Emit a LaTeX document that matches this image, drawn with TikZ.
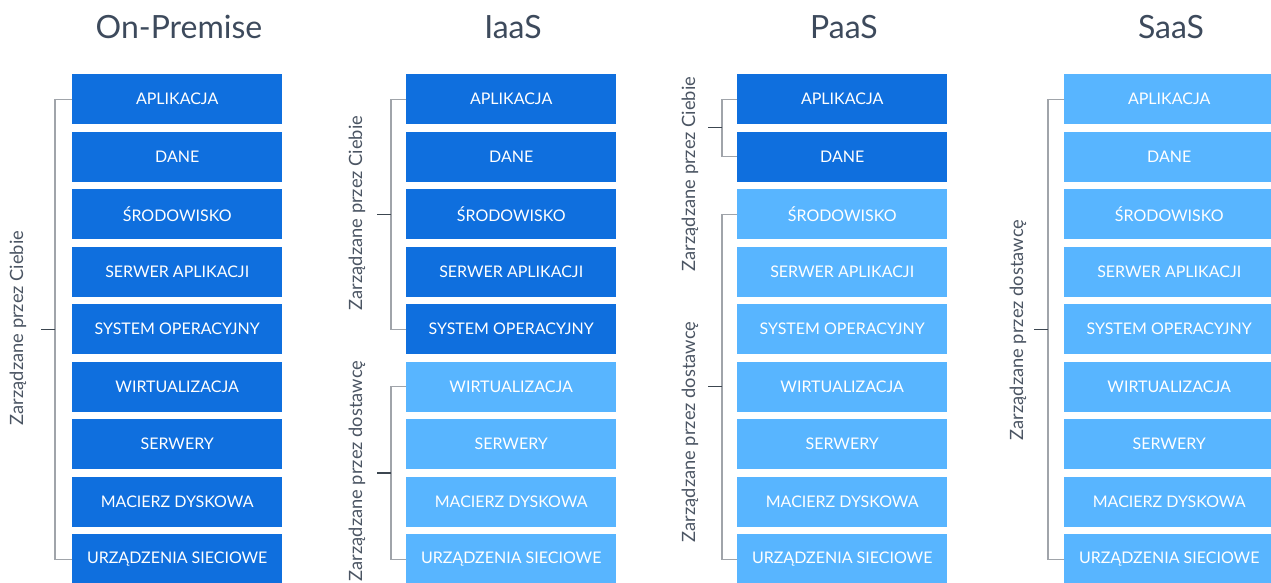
\documentclass[tikz,border=0pt]{standalone}
\usepackage{fontspec}
\setmainfont{Lato}
\usepackage{xcolor}
\usepackage{tikz}
\usetikzlibrary{positioning,calc}
\definecolor{cloud_dark}{RGB}{15, 111, 222}
\definecolor{cloud_light}{RGB}{88, 181, 255}
\definecolor{cloud_title}{RGB}{61, 74, 92}
\definecolor{cloud_side}{RGB}{75, 85, 99}
\definecolor{cloud_line}{RGB}{160, 164, 170}
\definecolor{cloud_tick}{RGB}{60, 70, 80}

\tikzset{
  layer/.style={anchor=north west, minimum width=210pt, minimum height=50pt,
                inner sep=0pt, text=white, font=\fontsize{16}{16}\selectfont},
  coltitle/.style={text=cloud_title, font=\fontsize{32}{32}\selectfont},
  sidelabel/.style={rotate=90, text=cloud_side, font=\fontsize{18.3}{18.3}\selectfont},
  bracket/.style={draw=cloud_line, line width=1.3pt},
  midtick/.style={draw=cloud_tick, line width=1.1pt}
}

\begin{document}
\begin{tikzpicture}[x=1pt, y=-1pt]
  \useasboundingbox (0,0) rectangle (1271,583);

  % columns of layers
  \foreach \col/\cx/\ndark/\title in {op/72/9/On-Premise, ia/406/5/IaaS, pa/737/2/PaaS, sa/1064/0/SaaS}{
    \node[coltitle] (\col title) at (\cx+107, 27) {\title};
    \foreach \layername [count=\i] in {APLIKACJA, DANE, ŚRODOWISKO, SERWER APLIKACJI,
        SYSTEM OPERACYJNY, WIRTUALIZACJA, SERWERY, MACIERZ DYSKOWA, URZĄDZENIA SIECIOWE}{
      \ifnum\i>\ndark \def\boxcol{cloud_light}\else\def\boxcol{cloud_dark}\fi
      \node[layer, fill=\boxcol] (\col\i) at (\cx, {74+57.5*(\i-1)}) {\layername};
    }
  }

  % On-Premise
  \draw[bracket] (op1.west) -- ++(-17,0) |- (op9.west);
  \coordinate (opmid) at ($(op1.west)!0.5!(op9.west)+(-17,0)$);
  \draw[midtick] (opmid) -- ++(-14,0);
  \node[sidelabel] (oplabel) at (18, 328) {Zarządzane przez Ciebie};

  % IaaS
  \draw[bracket] (ia1.west) -- ++(-15,0) |- (ia5.west);
  \coordinate (iamidA) at ($(ia1.west)!0.5!(ia5.west)+(-15,0)$);
  \draw[midtick] (iamidA) -- ++(-14,0);
  \node[sidelabel] (ialabelA) at (357, 213) {Zarządzane przez Ciebie};
  \draw[bracket] (ia6.west) -- ++(-15,0) |- (ia9.west);
  \coordinate (iamidB) at ($(ia6.west)!0.5!(ia9.west)+(-15,0)$);
  \draw[midtick] (iamidB) -- ++(-14,0);
  \node[sidelabel] (ialabelB) at (357, 471) {Zarządzane przez dostawcę};

  % PaaS
  \draw[bracket] (pa1.west) -- ++(-15,0) |- (pa2.west);
  \coordinate (pamidA) at ($(pa1.west)!0.5!(pa2.west)+(-15,0)$);
  \draw[midtick] (pamidA) -- ++(-14,0);
  \node[sidelabel] (palabelA) at (690, 174) {Zarządzane przez Ciebie};
  \draw[bracket] (pa3.west) -- ++(-15,0) |- (pa9.west);
  \coordinate (pamidB) at ($(pa3.west)!0.5!(pa9.west)+(-15,0)$);
  \draw[midtick] (pamidB) -- ++(-14,0);
  \node[sidelabel] (palabelB) at (690, 432) {Zarządzane przez dostawcę};

  % SaaS
  \draw[bracket] (sa1.west) -- ++(-16,0) |- (sa9.west);
  \coordinate (samid) at ($(sa1.west)!0.5!(sa9.west)+(-16,0)$);
  \draw[midtick] (samid) -- ++(-14,0);
  \node[sidelabel] (salabel) at (1018, 330) {Zarządzane przez dostawcę};
\end{tikzpicture}
\end{document}
